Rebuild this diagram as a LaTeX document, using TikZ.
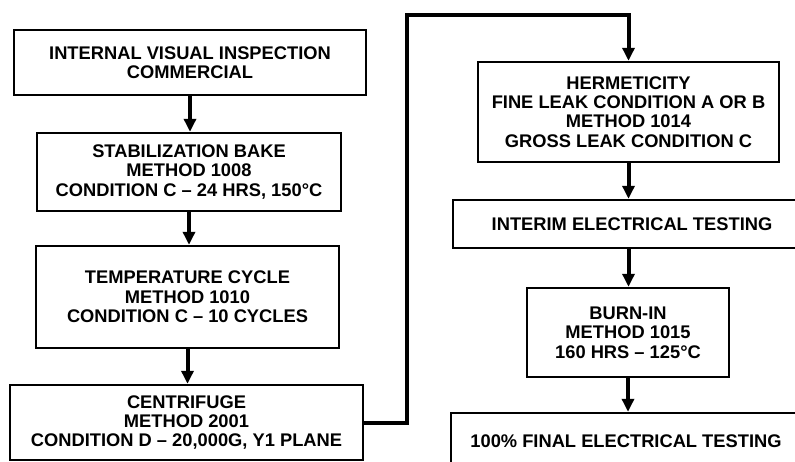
\documentclass[tikz,border=0pt]{standalone}
\usepackage{fontspec}
\setmainfont{Liberation Sans}
\usetikzlibrary{arrows.meta}
\begin{document}
\begin{tikzpicture}[x=1pt,y=-1pt,
  box/.style={draw=black, line width=2.4pt, fill=white, inner sep=0pt, align=center,
    font=\fontsize{18.3}{19.4}\selectfont\bfseries},
  arr/.style={line width=4pt, -{Triangle[width=12pt,length=13pt]}}]
\clip (0,0) rectangle (795,462);
\fill[white] (0,0) rectangle (795,462);
% left column
\node[box, minimum width=352pt, minimum height=65pt] (b1) at (190,62.5)
  {INTERNAL VISUAL INSPECTION\\COMMERCIAL};
\node[box, minimum width=304pt, minimum height=78pt] (b2) at (189,172)
  {STABILIZATION BAKE\\METHOD 1008\\CONDITION C – 24 HRS, 150°C};
\node[box, minimum width=303pt, minimum height=102pt] (b3) at (187.5,297)
  {TEMPERATURE CYCLE\\METHOD 1010\\CONDITION C – 10 CYCLES};
\node[box, minimum width=353pt, minimum height=75pt] (b4) at (186.5,422.5)
  {CENTRIFUGE\\METHOD 2001\\CONDITION D – 20,000G, Y1 PLANE};
% right column
\node[box, minimum width=301pt, minimum height=100pt] (b5) at (628.5,112)
  {HERMETICITY\\FINE LEAK CONDITION A OR B\\METHOD 1014\\GROSS LEAK CONDITION C};
\node[box, minimum width=358pt, minimum height=48pt] (b6) at (632,224)
  {INTERIM ELECTRICAL TESTING};
\node[box, minimum width=202pt, minimum height=89pt] (b7) at (628,332.5)
  {BURN-IN\\METHOD 1015\\160 HRS – 125°C};
\node[box, minimum width=350pt, minimum height=56pt] (b8) at (626,441)
  {100\% FINAL ELECTRICAL TESTING};
% connectors
\coordinate (c1) at (407,15);
\draw[arr] (b1.south) -- (b1.south |- b2.north);
\draw[arr] (b2.south) -- (b2.south |- b3.north);
\draw[arr] (b3.south) -- (b3.south |- b4.north);
\draw[arr] (b4.east) -| (c1) -| (b5.north);
\draw[arr] (b5.south) -- (b5.south |- b6.north);
\draw[arr] (b5.south |- b6.south) -- (b5.south |- b7.north);
\draw[arr] (b7.south) -- (b7.south |- b8.north);
\end{tikzpicture}
\end{document}
